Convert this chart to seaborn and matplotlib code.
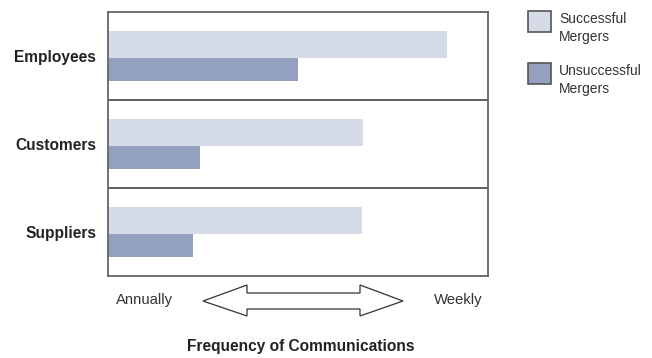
import matplotlib
matplotlib.use("Agg")
import matplotlib.pyplot as plt
from matplotlib.patches import Polygon, Rectangle
import seaborn as sns
import pandas as pd

# Data
categories = ["Employees", "Customers", "Suppliers"]
series = ["Successful\nMergers", "Unsuccessful\nMergers"]
successful = [89.2, 67.1, 66.8]
unsuccessful = [50.0, 24.2, 22.4]
scale_labels = ["Annually", "Weekly"]
x_title = "Frequency of Communications"

colors = ["#d5dbe7", "#94a0c0"]

sns.set_theme(style="white")
plt.rcParams["font.family"] = ["Liberation Sans", "DejaVu Sans"]

df = pd.DataFrame({
    "category": categories * 2,
    "series": [series[0]] * 3 + [series[1]] * 3,
    "value": successful + unsuccessful,
})

W, H = 652, 358
fig = plt.figure(figsize=(W / 100, H / 100), dpi=100)
ax = fig.add_axes([108 / W, 1 - 276 / H, 380 / W, 264 / H])

sns.barplot(data=df, y="category", x="value", hue="series", orient="h",
            palette=colors, width=0.57, dodge=True, saturation=1,
            linewidth=0, ax=ax, legend=False)

# Upper bar a touch taller than the lower one
for bar in ax.containers[0]:
    h = bar.get_height()
    bar.set_height(h * 27 / 25)
for bar in ax.containers[1]:
    h = bar.get_height()
    bar.set_y(bar.get_y() + h * 2 / 25)
    bar.set_height(h * 23 / 25)

ax.set_xlim(0, 100)
ax.set_ylim(2.5, -0.5)
for yb in [0.5, 1.5]:
    ax.axhline(yb, color="#333333", lw=1.1)

for s in ax.spines.values():
    s.set_visible(True)
    s.set_color("#666666")
    s.set_linewidth(1.3)

ax.set_xticks([])
ax.set_xlabel("")
ax.set_ylabel("")
ax.tick_params(axis="y", length=0, pad=8.5)
for lbl in ax.get_yticklabels():
    lbl.set_fontweight("bold")
    lbl.set_fontsize(11.2)
    lbl.set_color("#222222")

# Legend: swatch boxes with two-line labels aligned to the box tops
legend_tops = [11, 63]
for c, lab, top in zip(colors, series, legend_tops):
    fig.add_artist(Rectangle((528 / W, 1 - (top + 21) / H), 23 / W, 21 / H,
                             facecolor=c, edgecolor="#555555", lw=1.2,
                             transform=fig.transFigure))
    fig.text(559 / W, 1 - (top + 1) / H, lab, ha="left", va="top",
             fontsize=10, color="#333333", linespacing=1.4)

# Frequency scale below the axes
fig.text(116 / W, 1 - 300 / H, scale_labels[0], ha="left", va="center",
         fontsize=10.7, color="#333333")
fig.text(483 / W, 1 - 300 / H, scale_labels[1], ha="right", va="center",
         fontsize=10.7, color="#333333")

arrow_px = [(203, 301), (247, 285), (247, 293), (360, 293), (360, 285),
            (403, 301), (360, 316), (360, 309), (247, 309), (247, 316)]
arrow = Polygon([(x / W, 1 - y / H) for x, y in arrow_px], closed=True,
                facecolor="white", edgecolor="#333333", lw=0.9,
                transform=fig.transFigure)
fig.add_artist(arrow)

fig.text(301 / W, 1 - 347 / H, x_title, ha="center", va="center",
         fontsize=11.2, fontweight="bold", color="#222222")

fig.savefig("out.png", dpi=100)
